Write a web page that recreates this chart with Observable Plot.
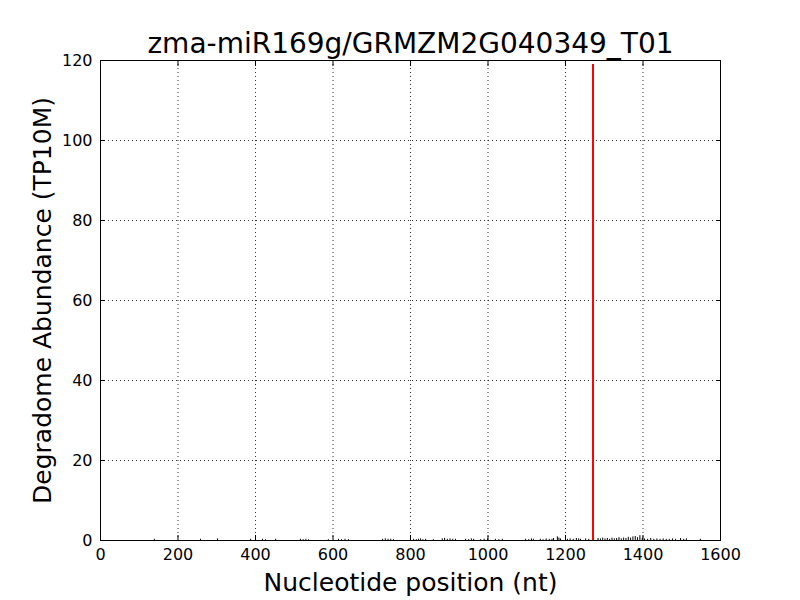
<!DOCTYPE html>
<html>
<head>
<meta charset="utf-8">
<script src="https://cdn.jsdelivr.net/npm/d3@7"></script>
<script src="https://cdn.jsdelivr.net/npm/@observablehq/plot@0.6"></script>
<style>
  html, body { margin: 0; padding: 0; background: #fff; }
  #chart { width: 800px; height: 600px; }
</style>
</head>
<body>
<div id="chart"></div>
<script>
const titleText = "zma-miR169g/GRMZM2G040349_T01";
const xLabel = "Nucleotide position (nt)";
const yLabel = "Degradome Abundance (TP10M)";
const xTicks = [0, 200, 400, 600, 800, 1000, 1200, 1400, 1600];
const yTicks = [0, 20, 40, 60, 80, 100, 120];

// background degradome reads (black)
const readPos = [139, 258, 302, 387, 418, 426, 452, 516, 523, 530, 537, 588, 614, 622, 631, 640,
  728, 735, 742, 749, 756, 808, 815, 821, 826, 832, 839, 859, 882, 888, 895, 902, 909, 916,
  942, 950, 957, 963, 981, 990, 999, 1019, 1028, 1037, 1097, 1105, 1112, 1117, 1135, 1142,
  1150, 1158, 1165, 1169, 1179, 1183, 1187, 1205, 1212, 1220, 1228, 1234, 1239, 1252, 1260,
  1284, 1290, 1296, 1302, 1308, 1314, 1320, 1326, 1332, 1338, 1344, 1350, 1356, 1362, 1368,
  1374, 1380, 1386, 1392, 1398, 1404, 1412, 1420, 1428, 1436, 1444, 1452, 1460, 1468, 1476,
  1484, 1497, 1505, 1512, 1548];
const readVal = [0.3, 0.3, 0.4, 0.3, 0.3, 0.2, 0.3, 0.3, 0.2, 0.3, 0.2, 0.2, 0.3, 0.2, 0.3, 0.2,
  0.3, 0.4, 0.3, 0.3, 0.2, 0.3, 0.2, 0.3, 0.4, 0.2, 0.3, 0.2, 0.4, 0.5, 0.3, 0.4, 0.3, 0.3,
  0.3, 0.2, 0.4, 0.3, 0.2, 0.3, 0.4, 0.3, 0.2, 0.3, 0.3, 0.2, 0.4, 0.3, 0.3, 0.2, 0.4, 0.3,
  0.3, 0.5, 0.9, 0.6, 0.4, 0.3, 0.4, 0.3, 0.5, 0.4, 0.3, 0.4, 0.3,
  0.5, 0.4, 0.6, 0.4, 0.5, 0.3, 0.6, 0.4, 0.5, 0.7, 0.4, 0.6, 0.5, 0.8, 0.6, 0.9, 1.0, 0.7,
  1.2, 0.6, 0.4, 0.3, 0.5, 0.3, 0.4, 0.3, 0.4, 0.3, 0.3, 0.4, 0.3, 0.5, 0.3, 0.4, 0.3, 0.3];

// miRNA cleavage site (red)
const sitePos = [1271];
const siteVal = [119];

const reads = readPos.map((p, i) => ({pos: p, val: readVal[i]}));
const sites = sitePos.map((p, i) => ({pos: p, val: siteVal[i]}));

const font = "DejaVu Sans, sans-serif";

const chart = Plot.plot({
  width: 800,
  height: 600,
  marginTop: 60,
  marginRight: 80,
  marginBottom: 60,
  marginLeft: 100,
  style: {fontFamily: font, background: "#fff", color: "#000"},
  x: {domain: [0, 1600]},
  y: {domain: [0, 120]},
  marks: [
    Plot.gridX(xTicks, {stroke: "#000", strokeOpacity: 1, strokeWidth: 0.8, strokeDasharray: "1,3"}),
    Plot.gridY(yTicks, {stroke: "#000", strokeOpacity: 1, strokeWidth: 0.8, strokeDasharray: "1,3"}),
    Plot.ruleX(reads, {x: "pos", y1: 0, y2: "val", stroke: "#000", strokeWidth: 1}),
    Plot.ruleX(sites, {x: "pos", y1: 0, y2: "val", stroke: "#ff0000", strokeWidth: 2}),
    Plot.axisX(xTicks, {anchor: "bottom", tickSize: -5, tickPadding: 13, fontSize: 16, label: null, tickFormat: d => String(d)}),
    Plot.axisX(xTicks, {anchor: "top", tickSize: -5, tickFormat: () => "", label: null}),
    Plot.axisY(yTicks, {anchor: "left", tickSize: -5, tickPadding: 13, fontSize: 16, label: null, tickFormat: d => String(d)}),
    Plot.axisY(yTicks, {anchor: "right", tickSize: -5, tickFormat: () => "", label: null}),
    Plot.frame({stroke: "#000", strokeWidth: 1}),
    Plot.text([titleText], {text: d => d, frameAnchor: "top", dy: -8, fontSize: 28, fill: "#000", lineAnchor: "bottom"}),
    Plot.text([xLabel], {text: d => d, frameAnchor: "bottom", dy: 50, fontSize: 25, fill: "#000", lineAnchor: "bottom"}),
    Plot.text([yLabel], {text: d => d, frameAnchor: "left", textAnchor: "middle", dx: -58, rotate: -90, fontSize: 25, fill: "#000"})
  ]
});
document.getElementById("chart").appendChild(chart);
</script>
</body>
</html>
